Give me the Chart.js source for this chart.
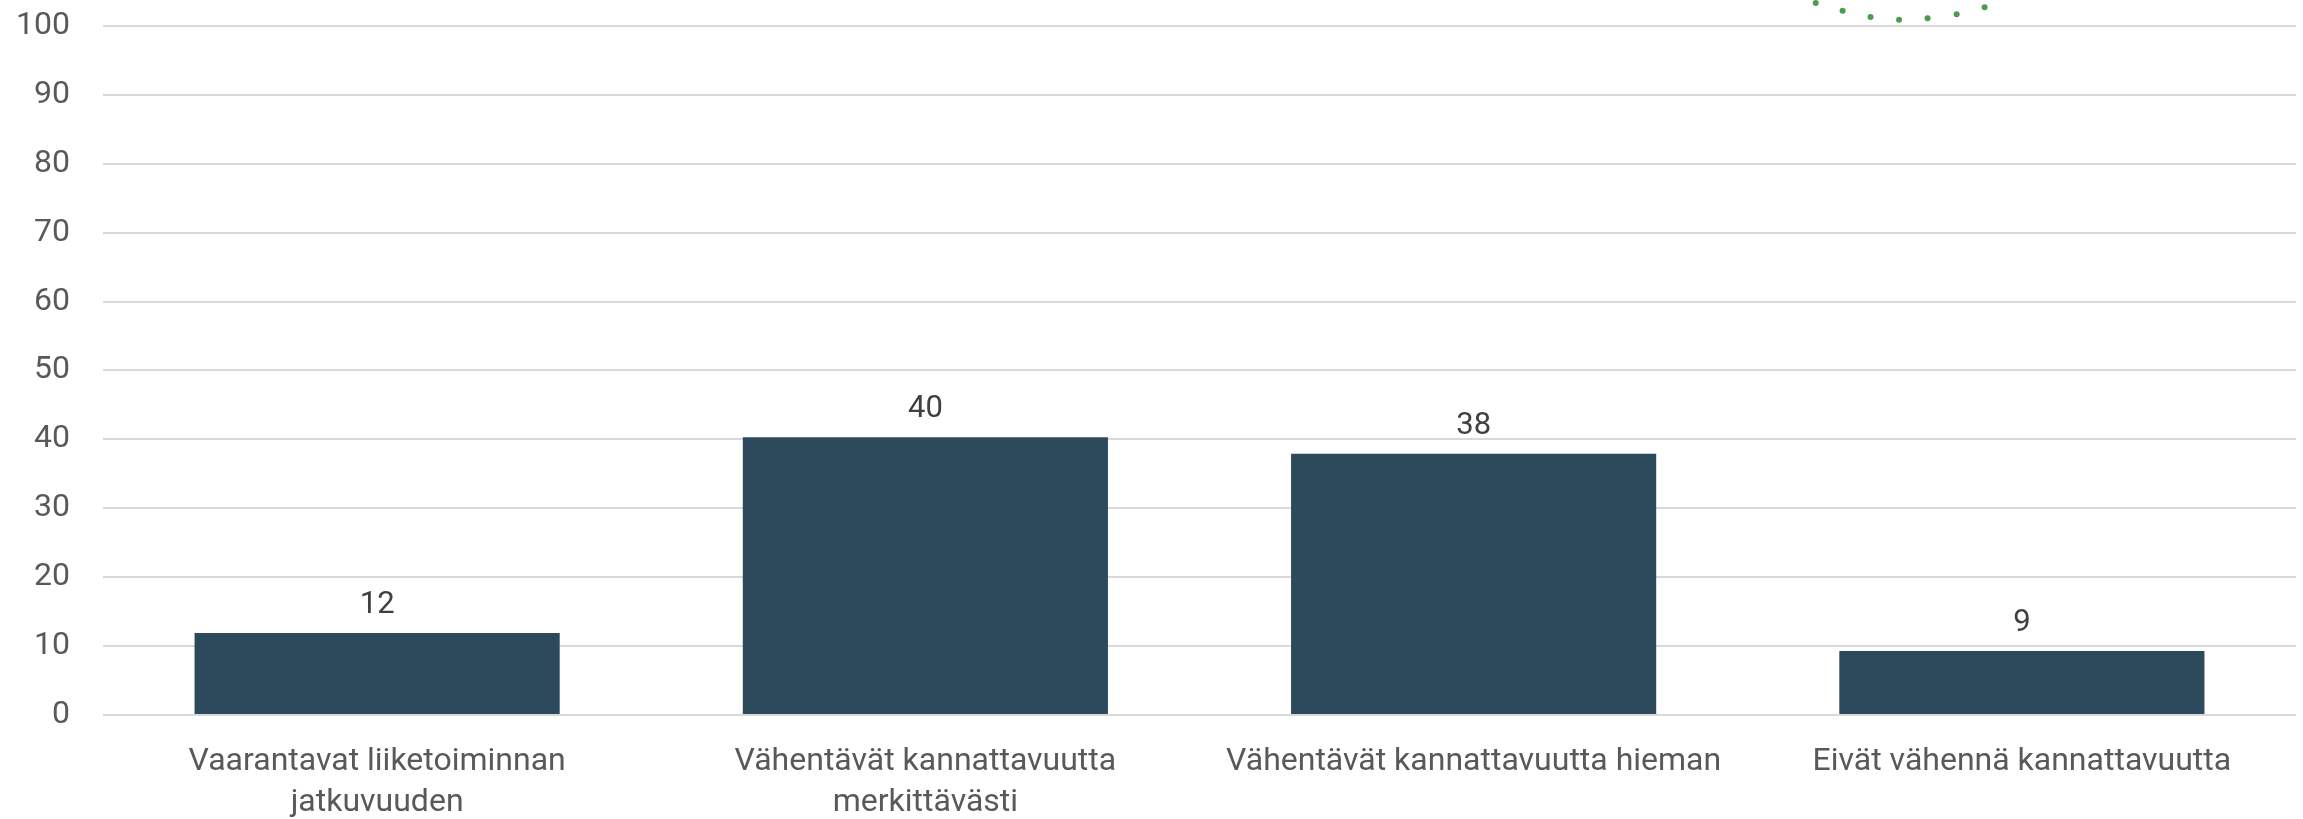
<!DOCTYPE html>
<html lang="fi">

<head>
    <meta charset="UTF-8" />
    <title>Kannattavuus</title>
    <script src="https://cdn.jsdelivr.net/npm/chart.js"></script>
    <style>
        html, body { margin: 0; padding: 0; background: #ffffff; }
        .chart-box { width: 2303px; height: 819px; position: relative; }
    </style>
</head>

<body>
    <div class="chart-box">
        <canvas id="barChart"></canvas>
    </div>

    <script>
        // data
        const categories = [
            ["Vaarantavat liiketoiminnan", "jatkuvuuden"],
            ["Vähentävät kannattavuutta", "merkittävästi"],
            "Vähentävät kannattavuutta hieman",
            "Eivät vähennä kannattavuutta",
        ];
        const values = [11.9, 40.3, 37.9, 9.3];
        const yTicks = [0, 10, 20, 30, 40, 50, 60, 70, 80, 90, 100];

        // the dotted green arc cut off at the top edge
        const dotX = [2.624, 2.673, 2.724, 2.776, 2.828, 2.881, 2.932];
        const dotY = [103.3, 102.2, 101.3, 100.9, 101.1, 101.7, 102.7];

        const fontFamily = "Roboto, 'Noto Sans', sans-serif";

        // value labels above the bars
        const barLabels = {
            id: "barLabels",
            afterDatasetsDraw(chart) {
                const ctx = chart.ctx;
                const meta = chart.getDatasetMeta(0);
                ctx.save();
                ctx.font = "31px " + fontFamily;
                ctx.fillStyle = "#404040";
                ctx.textAlign = "center";
                ctx.textBaseline = "alphabetic";
                meta.data.forEach((bar, i) => {
                    ctx.fillText(Math.round(values[i]).toString(), bar.x, bar.y - 20);
                });
                ctx.restore();
            },
        };

        const ctx = document.getElementById("barChart").getContext("2d");
        const chart = new Chart(ctx, {
            type: "bar",
            data: {
                labels: categories,
                datasets: [
                    {
                        label: "Osuus",
                        data: values,
                        backgroundColor: "#2d4a5c",
                        borderWidth: 0,
                        grouped: false,
                        categoryPercentage: 1,
                        barPercentage: 0.666,
                        order: 2,
                    },
                    {
                        type: "line",
                        label: "arc",
                        data: dotX.map((x, i) => ({ x: x, y: dotY[i] })),
                        xAxisID: "xd",
                        yAxisID: "y",
                        backgroundColor: "#4e9a52",
                        borderColor: "#4e9a52",
                        pointBackgroundColor: "#4e9a52",
                        pointBorderWidth: 0,
                        pointRadius: 3,
                        showLine: false,
                        clip: false,
                        order: 1,
                    },
                ],
            },
            options: {
                responsive: true,
                maintainAspectRatio: false,
                animation: false,
                layout: {
                    padding: { top: 0, right: 7, left: 0, bottom: 0 },
                },
                plugins: {
                    legend: { display: false },
                    tooltip: { enabled: false },
                },
                scales: {
                    x: {
                        grid: { display: false, drawTicks: false },
                        border: { display: false },
                        ticks: {
                            color: "#595959",
                            font: { family: fontFamily, size: 32, lineHeight: 1.3 },
                            padding: 26,
                            maxRotation: 0,
                            autoSkip: false,
                        },
                        afterFit: (axis) => {
                            axis.height = 104;
                        },
                    },
                    xd: {
                        type: "linear",
                        display: false,
                        offset: false,
                        min: -0.5,
                        max: 3.5,
                    },
                    y: {
                        // room above the 100 line for the arc
                        min: 0,
                        max: 103.17,
                        afterBuildTicks: (axis) => {
                            axis.ticks = yTicks.map((v) => ({ value: v }));
                        },
                        afterFit: (axis) => {
                            axis.width = 103;
                            axis.paddingTop = 0;
                            axis.paddingBottom = 0;
                        },
                        grid: {
                            color: "#d9d9d9",
                            lineWidth: 2,
                            drawTicks: false,
                        },
                        border: { display: false },
                        ticks: {
                            color: "#595959",
                            font: { family: fontFamily, size: 32 },
                            padding: 33,
                        },
                    },
                },
            },
            plugins: [barLabels],
        });
    </script>
</body>

</html>
